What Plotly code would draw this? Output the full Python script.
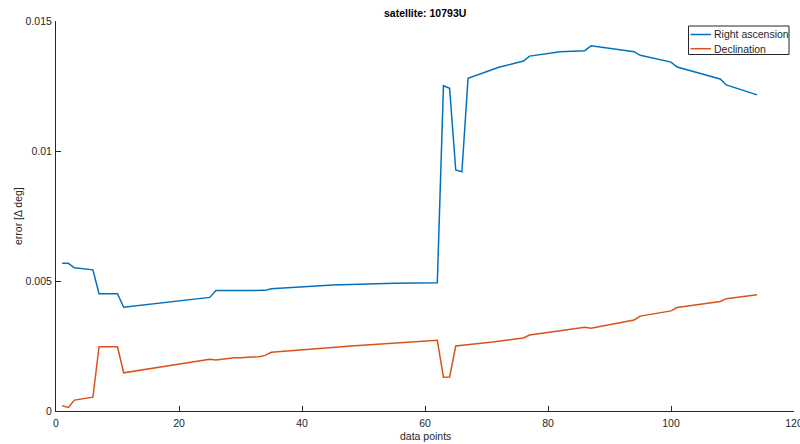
import plotly.graph_objects as go

# Pointing error per data point for satellite 10793U (vertices of each polyline)
ra_x = [1, 2, 3, 6, 7, 10, 11, 25, 26, 34, 35, 45, 55, 62, 63, 64, 65, 66, 67,
        72, 76, 77, 82, 86, 87, 94, 95, 100, 101, 108, 109, 114]
ra_y = [0.00568, 0.00568, 0.00551, 0.00543, 0.00451, 0.00451, 0.00399, 0.00437,
        0.00463, 0.00464, 0.00470, 0.00485, 0.00491, 0.00493, 0.01251, 0.01241,
        0.00927, 0.00920, 0.01280, 0.01322, 0.01346, 0.01365, 0.01382, 0.01386,
        0.01405, 0.01382, 0.01368, 0.01342, 0.01323, 0.01277, 0.01254, 0.01216]

dec_x = [1, 2, 3, 6, 7, 10, 11, 25, 26, 29, 30, 33, 34, 35, 48, 62, 63, 64, 65,
         71, 76, 77, 86, 87, 94, 95, 100, 101, 108, 109, 114]
dec_y = [0.00020, 0.00014, 0.00042, 0.00053, 0.00247, 0.00247, 0.00147, 0.00199,
         0.00196, 0.00205, 0.00205, 0.00209, 0.00214, 0.00226, 0.00250, 0.00272,
         0.00130, 0.00131, 0.00250, 0.00265, 0.00281, 0.00292, 0.00322, 0.00318,
         0.00350, 0.00365, 0.00385, 0.00398, 0.00421, 0.00432, 0.00447]

x_ticks = [0, 20, 40, 60, 80, 100, 120]
y_ticks = [0, 0.005, 0.01, 0.015]
y_tick_text = ["0", "0.005", "0.01", "0.015"]

series_names = ["Right ascension", "Declination"]
BLUE = "#0072BD"
ORANGE = "#D95319"
AX = "#262626"
FONT = "Liberation Sans, Arial, Helvetica, sans-serif"

fig = go.Figure()
fig.add_trace(go.Scatter(x=ra_x, y=ra_y, mode="lines", name=series_names[0],
                         line=dict(color=BLUE, width=1.5)))
fig.add_trace(go.Scatter(x=dec_x, y=dec_y, mode="lines", name=series_names[1],
                         line=dict(color=ORANGE, width=1.5)))

L, R, T, B = 56, 6, 21, 33
W, H = 800, 444
pw, ph = W - L - R, H - T - B

fig.update_layout(
    width=W, height=H,
    margin=dict(l=L, r=R, t=T, b=B, pad=0, autoexpand=False),
    paper_bgcolor="white", plot_bgcolor="white",
    showlegend=False,
    font=dict(family=FONT, size=10.5, color=AX),
    xaxis=dict(range=[0, 120], tickvals=x_ticks, ticks="inside", ticklen=5,
               tickcolor=AX, tickwidth=1, showline=True, linecolor=AX,
               linewidth=1, showgrid=False, zeroline=False, mirror=False,
               automargin=False,
               ticklabeloverflow="allow", ticklabelstandoff=2,
               tickfont=dict(size=10.5, color=AX), fixedrange=True),
    yaxis=dict(range=[0, 0.015], tickvals=y_ticks, ticktext=y_tick_text,
               ticks="inside", ticklen=5, tickcolor=AX, tickwidth=1,
               showline=True, linecolor=AX, linewidth=1, showgrid=False,
               zeroline=False, mirror=False, ticklabelstandoff=1,
               automargin=False, ticklabeloverflow="allow",
               tickfont=dict(size=10.5, color=AX), fixedrange=True),
)

# Title and axis labels
fig.add_annotation(text="<b>satellite: 10793U</b>", xref="paper", yref="paper",
                   x=0.5, y=(H - B - 13) / ph, xanchor="center", yanchor="middle",
                   showarrow=False, font=dict(size=10.5, color="black"))
fig.add_annotation(text="data points", xref="paper", yref="paper",
                   x=0.5, y=-(436 - (H - B)) / ph, xanchor="center",
                   yanchor="middle", showarrow=False,
                   font=dict(size=10.5, color=AX))
fig.add_annotation(text="error [\u0394 deg]", xref="paper", yref="paper",
                   x=(18 - L) / pw, y=0.5, xanchor="center", yanchor="middle",
                   textangle=-90, showarrow=False,
                   font=dict(size=10.5, color=AX))


# Legend box drawn in pixel space, converted to paper coordinates
def px(xp):
    return (xp - L) / pw


def py(yp):
    return (H - B - yp) / ph


fig.add_shape(type="rect", xref="paper", yref="paper",
              x0=px(688.5), x1=px(789), y0=py(54.5), y1=py(26),
              line=dict(color=AX, width=1), fillcolor="white", layer="above")
for i, (name, col) in enumerate(zip(series_names, [BLUE, ORANGE])):
    yc = 34.5 + i * 14.2
    fig.add_shape(type="line", xref="paper", yref="paper",
                  x0=px(690.5), x1=px(711), y0=py(yc), y1=py(yc),
                  line=dict(color=col, width=1.5), layer="above")
    fig.add_annotation(text=name, xref="paper", yref="paper",
                       x=px(711.5), y=py(yc), xanchor="left", yanchor="middle",
                       showarrow=False, font=dict(size=10.5, color=AX))

fig.write_html("out.html", config=dict(displayModeBar=False))
